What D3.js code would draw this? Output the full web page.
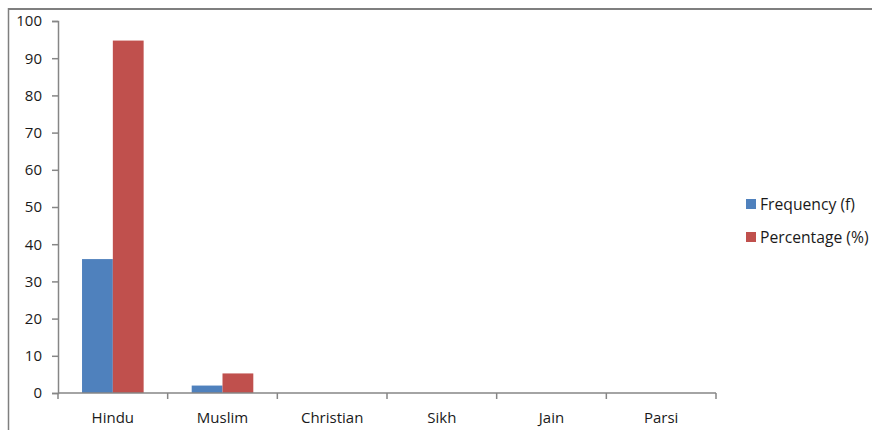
<!DOCTYPE html>
<html>
<head>
<meta charset="utf-8">
<script src="https://cdn.jsdelivr.net/npm/d3@7/dist/d3.min.js"></script>
<style>
  html, body { margin: 0; padding: 0; background: #fff; }
  svg { display: block; }
  text { font-family: "Open Sans", "Noto Sans", sans-serif; fill: #1a1a1a; }
</style>
</head>
<body>
<script>
// Religion distribution of respondents
const categories = ["Hindu", "Muslim", "Christian", "Sikh", "Jain", "Parsi"];
const seriesNames = ["Frequency (f)", "Percentage (%)"];
const frequency = [36, 2, 0, 0, 0, 0];
const percentage = [94.74, 5.26, 0, 0, 0, 0];
const yTicks = [0, 10, 20, 30, 40, 50, 60, 70, 80, 90, 100];
const colors = ["#4f81bd", "#c0504d"];

const W = 872, H = 430;
const svg = d3.select("body").append("svg").attr("width", W).attr("height", H);

// outer chart frame (top and left edges visible)
svg.append("line").attr("x1", 8).attr("x2", W).attr("y1", 9).attr("y2", 9)
  .attr("stroke", "#7f7f7f").attr("stroke-width", 2);
svg.append("line").attr("x1", 8.5).attr("x2", 8.5).attr("y1", 8).attr("y2", H)
  .attr("stroke", "#7f7f7f").attr("stroke-width", 1.5);

const plot = { left: 58, right: 716, top: 21, bottom: 393 };

const x = d3.scaleBand().domain(categories).range([plot.left, plot.right]);
const inner = d3.scaleBand().domain(seriesNames)
  .range([0, x.bandwidth()]).paddingOuter(0.78).paddingInner(0);
const y = d3.scaleLinear().domain([0, 100]).range([plot.bottom, plot.top]);

const axisColor = "#868686";

// bars
const rows = categories.map((c, i) => ({ cat: c, vals: [frequency[i], percentage[i]] }));
const g = svg.append("g");
rows.forEach(r => {
  r.vals.forEach((v, k) => {
    if (v <= 0) return;
    g.append("rect")
      .attr("x", x(r.cat) + inner(seriesNames[k]))
      .attr("width", inner.bandwidth())
      .attr("y", y(v))
      .attr("height", y(0) - y(v))
      .attr("fill", colors[k]);
  });
});

// y axis
const yAxis = d3.axisLeft(y).tickValues(yTicks).tickSize(6).tickPadding(10);
const ya = svg.append("g").attr("transform", `translate(${plot.left},0)`).call(yAxis);
ya.select(".domain").attr("stroke", axisColor).attr("stroke-width", 1.5);
ya.selectAll(".tick line").attr("stroke", axisColor).attr("stroke-width", 1.5);
ya.selectAll(".tick text").style("font-size", "15px").attr("fill", "#1a1a1a")
  .style("font-family", "'Open Sans', sans-serif");

// x axis with boundary ticks between categories
const xa = svg.append("g").attr("transform", `translate(0,${plot.bottom})`);
xa.append("line").attr("x1", plot.left).attr("x2", plot.right)
  .attr("stroke", axisColor).attr("stroke-width", 1.5);
const bounds = categories.map(c => x(c)).concat([plot.right]);
xa.selectAll("line.b").data(bounds).enter().append("line")
  .attr("x1", d => d).attr("x2", d => d).attr("y1", 0).attr("y2", 6)
  .attr("stroke", axisColor).attr("stroke-width", 1.5);
xa.selectAll("text").data(categories).enter().append("text")
  .attr("x", d => x(d) + x.bandwidth() / 2).attr("y", 30)
  .attr("text-anchor", "middle").style("font-size", "15px").text(d => d);

// legend
const lg = svg.append("g").attr("transform", "translate(746,199)");
seriesNames.forEach((s, k) => {
  const row = lg.append("g").attr("transform", `translate(0,${k * 33})`);
  row.append("rect").attr("width", 10).attr("height", 10).attr("fill", colors[k]);
  row.append("text").attr("x", 14).attr("y", 11).style("font-size", "15.7px").text(s);
});
</script>
</body>
</html>
